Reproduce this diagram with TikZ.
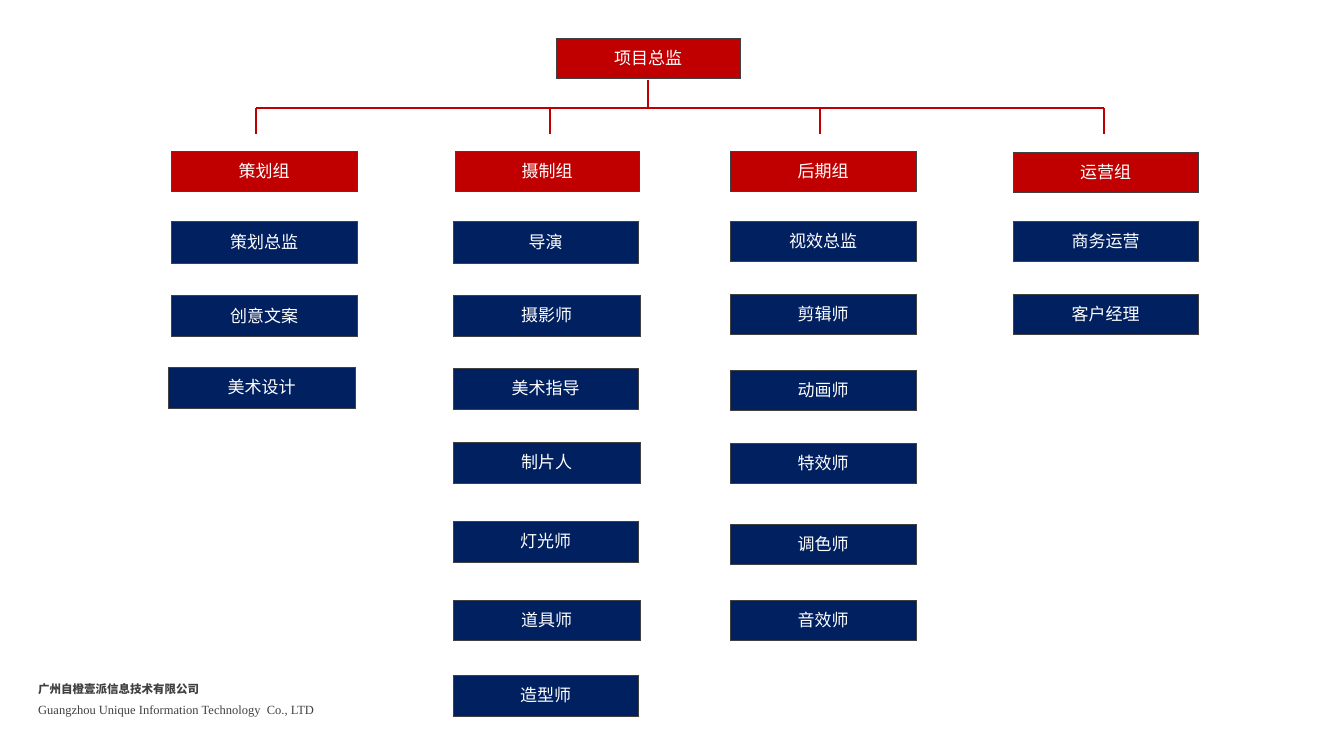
\documentclass[tikz,border=0pt]{standalone}
\usepackage{fontspec}
\setmainfont{Liberation Serif}
\newfontfamily\cjk{Noto Sans CJK SC}
\definecolor{rd}{HTML}{C00000}
\definecolor{bl}{HTML}{002060}
\definecolor{gr}{HTML}{404040}
\newcommand\bx[7]{\node[box,fill=#1,minimum width={(#5-#3)*1pt},minimum height={(#6-#4)*1pt}] (#2) at ({(#3+#5)/2},{(#4+#6)/2}) {#7};}
\begin{document}
\begin{tikzpicture}[x=1pt,y=-1pt,
 box/.style={draw=gr,line width=0.8pt,inner sep=0pt,text=white,font=\cjk\fontsize{17}{17}\selectfont},
 ln/.style={draw=rd,line width=2.2pt}]
\useasboundingbox (0,0) rectangle (1344,754);
\bx{rd}{top}{556}{38}{740}{78}{项目总监}
\bx{rd}{g1}{171}{151}{357}{191}{策划组}
\bx{rd}{g2}{455}{151}{639}{191}{摄制组}
\bx{rd}{g3}{730}{151}{916}{191}{后期组}
\bx{rd}{g4}{1013}{152}{1198}{192}{运营组}
\coordinate (tb) at (648,80);
\coordinate (bm) at (648,108);
\coordinate (b1) at (256,108);\coordinate (b2) at (550,108);
\coordinate (b3) at (820,108);\coordinate (b4) at (1104,108);
\coordinate (e1) at (256,134);\coordinate (e2) at (550,134);
\coordinate (e3) at (820,134);\coordinate (e4) at (1104,134);
\draw[ln] (tb) -- (bm);
\draw[ln] (b1) -- (b4);
\draw[ln] (b1)--(e1) (b2)--(e2) (b3)--(e3) (b4)--(e4);
\bx{bl}{a1}{171}{221}{357}{263}{策划总监}
\bx{bl}{a2}{171}{295}{357}{336}{创意文案}
\bx{bl}{a3}{168}{367}{355}{408}{美术设计}
\bx{bl}{c1}{453}{221}{638}{263}{导演}
\bx{bl}{c2}{453}{295}{640}{336}{摄影师}
\bx{bl}{c3}{453}{368}{638}{409}{美术指导}
\bx{bl}{c4}{453}{442}{640}{483}{制片人}
\bx{bl}{c5}{453}{521}{638}{562}{灯光师}
\bx{bl}{c6}{453}{600}{640}{640}{道具师}
\bx{bl}{c7}{453}{675}{638}{716}{造型师}
\bx{bl}{d1}{730}{221}{916}{261}{视效总监}
\bx{bl}{d2}{730}{294}{916}{334}{剪辑师}
\bx{bl}{d3}{730}{370}{916}{410}{动画师}
\bx{bl}{d4}{730}{443}{916}{483}{特效师}
\bx{bl}{d5}{730}{524}{916}{564}{调色师}
\bx{bl}{d6}{730}{600}{916}{640}{音效师}
\bx{bl}{f1}{1013}{221}{1198}{261}{商务运营}
\bx{bl}{f2}{1013}{294}{1198}{334}{客户经理}
\node[anchor=west,inner sep=0pt,text=gr,font=\cjk\bfseries\fontsize{11.5}{11.5}\selectfont] (co) at (38,689) {广州自橙壹派信息技术有限公司};
\node[anchor=west,inner sep=0pt,text=gr,font=\fontsize{12.5}{12.5}\selectfont] (en) at (38,711) {Guangzhou Unique Information Technology\ \ Co., LTD};
\end{tikzpicture}
\end{document}
